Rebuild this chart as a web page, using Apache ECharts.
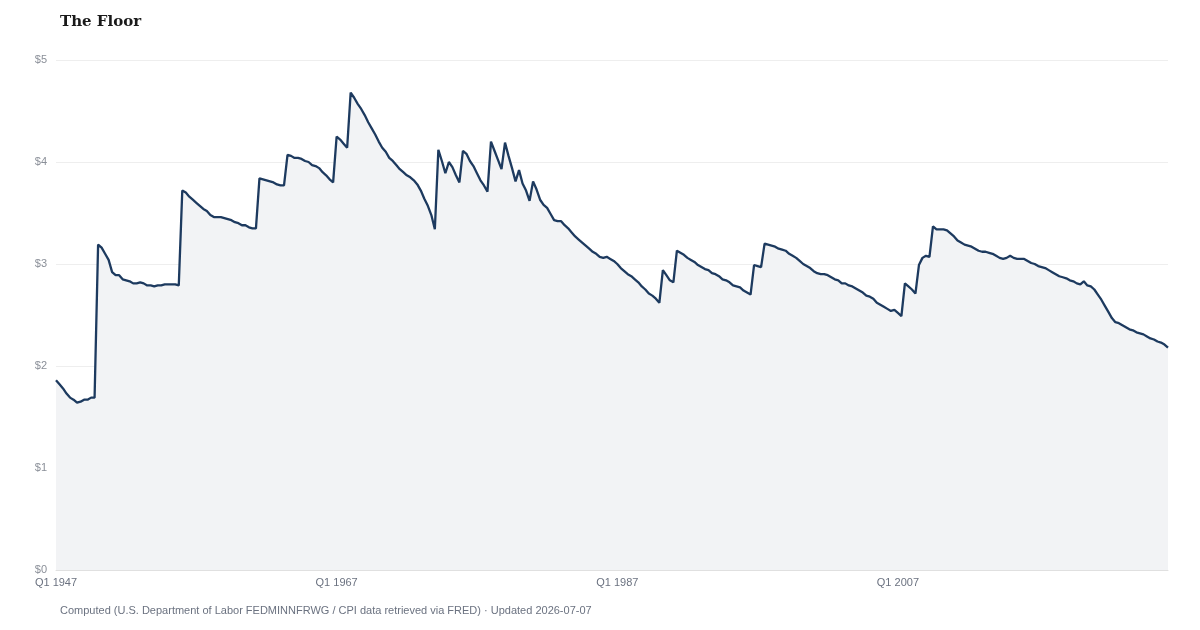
<!DOCTYPE html>
<html>
<head>
<meta charset="utf-8">
<script src="https://cdn.jsdelivr.net/npm/echarts@6/dist/echarts.min.js"></script>
<style>
  html, body { margin: 0; padding: 0; background: #ffffff; }
  #chart { width: 1200px; height: 630px; }
</style>
</head>
<body>
<div id="chart"></div>
<script>
// Real federal minimum wage, quarterly, Q1 1947 - Q2 2026
var startYear = 1947;
var values = [
  1.86, 1.82, 1.78, 1.73,
  1.69, 1.67, 1.64, 1.65,
  1.67, 1.67, 1.69, 1.69,
  3.19, 3.16, 3.10, 3.04,
  2.92, 2.89, 2.89, 2.85,
  2.84, 2.83, 2.81, 2.81,
  2.82, 2.81, 2.79, 2.79,
  2.78, 2.79, 2.79, 2.80,
  2.80, 2.80, 2.80, 2.79,
  3.72, 3.70, 3.66, 3.63,
  3.60, 3.57, 3.54, 3.52,
  3.48, 3.46, 3.46, 3.46,
  3.45, 3.44, 3.43, 3.41,
  3.40, 3.38, 3.38, 3.36,
  3.35, 3.35, 3.84, 3.83,
  3.82, 3.81, 3.80, 3.78,
  3.77, 3.77, 4.07, 4.06,
  4.04, 4.04, 4.03, 4.01,
  4.00, 3.97, 3.96, 3.94,
  3.90, 3.87, 3.83, 3.80,
  4.25, 4.22, 4.18, 4.14,
  4.68, 4.63, 4.57, 4.52,
  4.46, 4.39, 4.33, 4.27,
  4.20, 4.14, 4.10, 4.04,
  4.01, 3.97, 3.93, 3.90,
  3.87, 3.85, 3.82, 3.78,
  3.72, 3.64, 3.57, 3.48,
  3.34, 4.12, 4.01, 3.89,
  4.00, 3.95, 3.87, 3.80,
  4.11, 4.08, 4.01, 3.96,
  3.89, 3.82, 3.77, 3.71,
  4.20, 4.11, 4.02, 3.93,
  4.19, 4.06, 3.94, 3.81,
  3.92, 3.79, 3.72, 3.62,
  3.81, 3.73, 3.63, 3.58,
  3.55, 3.49, 3.43, 3.42,
  3.42, 3.38, 3.35, 3.31,
  3.27, 3.24, 3.21, 3.18,
  3.15, 3.12, 3.10, 3.07,
  3.06, 3.07, 3.05, 3.03,
  3.00, 2.96, 2.93, 2.90,
  2.88, 2.85, 2.82, 2.78,
  2.75, 2.71, 2.69, 2.66,
  2.62, 2.94, 2.89, 2.84,
  2.82, 3.13, 3.11, 3.09,
  3.06, 3.04, 3.02, 2.99,
  2.97, 2.95, 2.94, 2.91,
  2.90, 2.88, 2.85, 2.84,
  2.82, 2.79, 2.78, 2.77,
  2.74, 2.72, 2.70, 2.99,
  2.98, 2.97, 3.20, 3.19,
  3.18, 3.17, 3.15, 3.14,
  3.13, 3.10, 3.08, 3.06,
  3.03, 3.00, 2.98, 2.96,
  2.93, 2.91, 2.90, 2.90,
  2.89, 2.87, 2.85, 2.84,
  2.81, 2.81, 2.79, 2.78,
  2.76, 2.74, 2.72, 2.69,
  2.68, 2.66, 2.62, 2.60,
  2.58, 2.56, 2.54, 2.55,
  2.52, 2.49, 2.81, 2.78,
  2.75, 2.71, 2.99, 3.06,
  3.08, 3.07, 3.37, 3.34,
  3.34, 3.34, 3.33, 3.30,
  3.27, 3.23, 3.21, 3.19,
  3.18, 3.17, 3.15, 3.13,
  3.12, 3.12, 3.11, 3.10,
  3.08, 3.06, 3.05, 3.06,
  3.08, 3.06, 3.05, 3.05,
  3.05, 3.03, 3.01, 3.00,
  2.98, 2.97, 2.96, 2.94,
  2.92, 2.90, 2.88, 2.87,
  2.86, 2.84, 2.83, 2.81,
  2.80, 2.83, 2.79, 2.78,
  2.75, 2.70, 2.65, 2.59,
  2.53, 2.47, 2.43, 2.42,
  2.40, 2.38, 2.36, 2.35,
  2.33, 2.32, 2.31, 2.29,
  2.27, 2.26, 2.24, 2.23,
  2.21, 2.18
];
var categories = [];
for (var k = 0; k < values.length; k++) {
  categories.push('Q' + (k % 4 + 1) + ' ' + (startYear + Math.floor(k / 4)));
}
var yTicks = [0, 1, 2, 3, 4, 5];

var chart = echarts.init(document.getElementById('chart'), null, { renderer: 'canvas' });
chart.setOption({
  animation: false,
  backgroundColor: '#ffffff',
  title: {
    text: 'The Floor',
    left: 55,
    top: 10,
    textStyle: { fontFamily: 'DejaVu Serif', fontWeight: 'bold', fontSize: 15, color: '#1a1a1a' }
  },
  grid: { left: 56, right: 32, top: 60, bottom: 60, containLabel: false },
  xAxis: {
    type: 'category',
    data: categories,
    boundaryGap: false,
    axisLine: { show: true, lineStyle: { color: '#e0e0e0', width: 1 } },
    axisTick: { show: false },
    axisLabel: { interval: 79, color: '#6b7280', fontSize: 11, fontFamily: 'Liberation Sans', margin: 7 },
    splitLine: { show: false }
  },
  yAxis: {
    type: 'value',
    min: yTicks[0],
    max: yTicks[yTicks.length - 1],
    interval: 1,
    axisLine: { show: false },
    axisTick: { show: false },
    axisLabel: { color: '#8a8f98', fontSize: 11, fontFamily: 'Liberation Sans', margin: 9,
      formatter: function (v) { return '$' + v; } },
    splitLine: { show: true, lineStyle: { color: '#eeeeee', width: 1 } }
  },
  series: [{
    type: 'line',
    data: values,
    showSymbol: false,
    symbol: 'none',
    lineStyle: { color: '#1d3a5f', width: 2.3 },
    areaStyle: { color: '#f2f3f5', opacity: 1 }
  }],
  graphic: [{
    type: 'text',
    left: 60,
    top: 605,
    style: {
      text: 'Computed (U.S. Department of Labor FEDMINNFRWG / CPI data retrieved via FRED) \u00b7 Updated 2026-07-07',
      fill: '#6b7280',
      font: '11px "Liberation Sans"'
    }
  }]
});
</script>
</body>
</html>
